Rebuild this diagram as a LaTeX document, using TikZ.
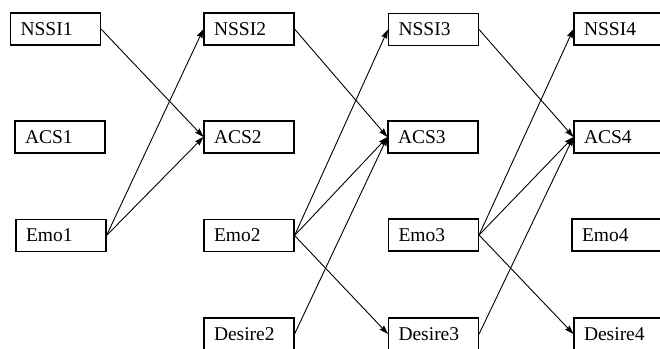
\documentclass[tikz,border=0pt]{standalone}
\usepackage{fontspec}
\setmainfont{Liberation Serif}
\usetikzlibrary{arrows.meta}

\tikzset{
  var/.style={draw, line width=1.1pt, minimum height=32pt, text width=70pt,
    inner xsep=10pt, align=left, font=\fontsize{19.5}{22}\selectfont},
  arr/.style={line width=0.9pt, -{Stealth[length=9pt,width=6pt,inset=1pt]}}
}

\begin{document}
\begin{tikzpicture}[x=1pt,y=-1pt]

% Frame (the picture is cut at the right and bottom)
\clip (0,0) rectangle (660,348);

%--- Wave 1 ---
\node[var] (nssi1) at (55.5,29) {NSSI1};
\node[var] (acs1) at (60,137) {ACS1};
\node[var] (emo1) at (61,235.5) {Emo1};

%--- Wave 2 ---
\node[var] (nssi2) at (249,29) {NSSI2};
\node[var] (acs2) at (249,137) {ACS2};
\node[var] (emo2) at (249,235.5) {Emo2};
\node[var] (desire2) at (249,334) {Desire2};

%--- Wave 3 ---
\node[var] (nssi3) at (433.5,29.5) {NSSI3};
\node[var] (acs3) at (433,137) {ACS3};
\node[var] (emo3) at (433.5,235) {Emo3};
\node[var] (desire3) at (433.5,334) {Desire3};

%--- Wave 4 ---
\node[var] (nssi4) at (619,29) {NSSI4};
\node[var] (acs4) at (619,137) {ACS4};
\node[var] (emo4) at (617,235) {Emo4};
\node[var] (desire4) at (619,334) {Desire4};

% Paths 1 -> 2
\draw[arr] (nssi1.east) -- (acs2.west);
\draw[arr] (emo1.east) -- (nssi2.west);
\draw[arr] (emo1.east) -- (acs2.west);

% Paths 2 -> 3
\draw[arr] (nssi2.east) -- (acs3.west);
\draw[arr] (emo2.east) -- (nssi3.west);
\draw[arr] (emo2.east) -- (acs3.west);
\draw[arr] (emo2.east) -- (desire3.west);
\draw[arr] (desire2.east) -- (acs3.west);

% Paths 3 -> 4
\draw[arr] (nssi3.east) -- (acs4.west);
\draw[arr] (emo3.east) -- (nssi4.west);
\draw[arr] (emo3.east) -- (acs4.west);
\draw[arr] (emo3.east) -- (desire4.west);
\draw[arr] (desire3.east) -- (acs4.west);

\end{tikzpicture}
\end{document}
